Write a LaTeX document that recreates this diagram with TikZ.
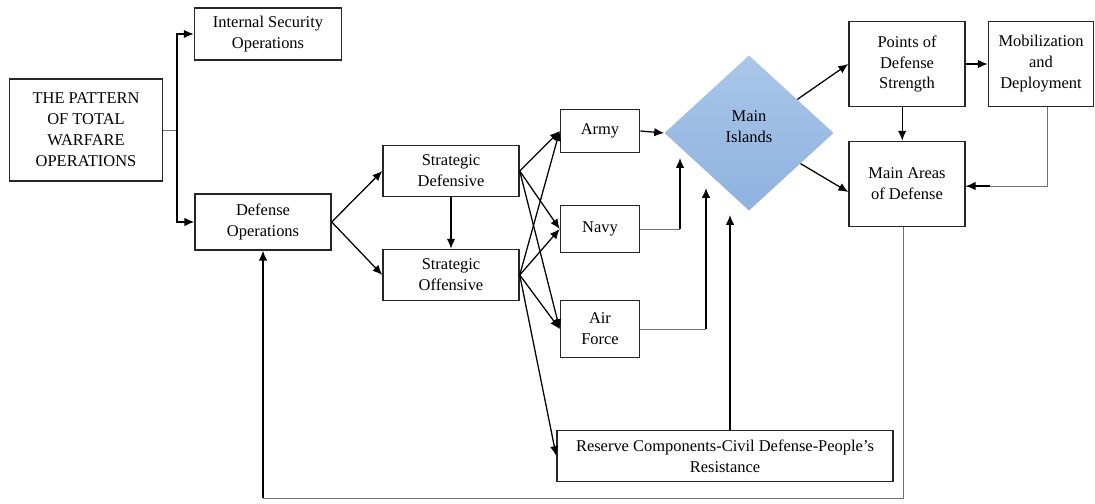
\documentclass[tikz,border=0pt]{standalone}
\usepackage{fontspec}
\setmainfont{Liberation Serif}
\usetikzlibrary{shapes.geometric,arrows.meta}
\definecolor{islandtop}{RGB}{170,198,234}
\definecolor{islandbot}{RGB}{143,178,223}
\begin{document}
\begin{tikzpicture}[x=0.025cm,y=-0.025cm,
        font=\fontsize{11.7}{14.9}\selectfont,
        box/.style={draw=black!85, line width=1pt, align=center, inner sep=1pt},
        arr/.style={-{Latex[length=7pt,width=6pt]}, line width=0.9pt},
        thin/.style={draw=black!55, line width=0.7pt}]
        \useasboundingbox (0,0) rectangle (1095,504);
        \node[box, minimum width=3.83cm, minimum height=2.55cm] (pattern) at (86,130) {THE PATTERN\\OF TOTAL\\WARFARE\\OPERATIONS};
        \node[box, minimum width=3.68cm, minimum height=1.3cm] (internal) at (268,34) {Internal Security\\Operations};
        \node[box, minimum width=3.4cm, minimum height=1.4cm] (defops) at (263,222) {Defense\\Operations};
        \node[box, minimum width=3.4cm, minimum height=1.28cm] (sdef) at (451,171) {Strategic\\Defensive};
        \node[box, minimum width=3.4cm, minimum height=1.28cm] (soff) at (451,275) {Strategic\\Offensive};
        \node[box, minimum width=1.98cm, minimum height=1.08cm] (army) at (600,131) {Army};
        \node[box, minimum width=1.98cm, minimum height=1.18cm] (navy) at (600,229) {Navy};
        \node[box, minimum width=1.98cm, minimum height=1.43cm] (air) at (600,329) {Air\\Force};
        \node[box, minimum width=8.4cm, minimum height=1.28cm] (reserve) at (725,456) {Reserve Components-Civil Defense-People’s\\Resistance};
        \node[diamond, top color=islandtop, bottom color=islandbot, inner sep=0pt, aspect=1.09, minimum width=4.23cm, minimum height=3.88cm,
              label={[yshift=0.15cm, align=center]center:Main\\Islands}] (islands) at (749,133) {};
        \node[box, minimum width=2.9cm, minimum height=2.13cm] (points) at (907,64) {Points of\\Defense\\Strength};
        \node[box, minimum width=2.63cm, minimum height=2.13cm] (mob) at (1041,64) {Mobilization\\and\\Deployment};
        \node[box, minimum width=2.9cm, minimum height=2.13cm] (areas) at (907,184) {Main Areas\\of Defense};
        \coordinate (split) at (177,130);
        \coordinate (navyin) at (680,158);
        \coordinate (airin) at (706,188);
        \coordinate (resin) at (730,215);
        \coordinate (bottom) at (0,498);
        \draw[thin] (pattern.east) -- (split);
        \draw[arr] (split) |- (internal.west);
        \draw[arr] (split) |- (defops.west);
        \draw[arr] (defops.east) -- (sdef.west);
        \draw[arr] (defops.east) -- (soff.west);
        \draw[arr] (sdef.south) -- (soff.north);
        \draw[arr] (sdef.east) -- (army.west);
        \draw[arr] (sdef.east) -- (navy.west);
        \draw[arr] (sdef.east) -- (air.west);
        \draw[arr] (soff.east) -- (army.west);
        \draw[arr] (soff.east) -- (navy.west);
        \draw[arr] (soff.east) -- (air.west);
        \draw[arr] (soff.east) -- (reserve.west);
        \draw[arr] (army.east) -- (islands.west);
        \draw[thin] (navy.east) -| (navyin |- navy.east);
        \draw[arr] (navyin |- navy.east) -- (navyin);
        \draw[thin] (air.east) -| (airin |- air.east);
        \draw[arr] (airin |- air.east) -- (airin);
        \draw[arr] (reserve.north -| resin) -- (resin);
        \draw[arr] (islands) -- (points.west);
        \draw[arr] (islands) -- ([yshift=-0.2cm]areas.west);
        \draw[arr] (points.east) -- (mob.west);
        \draw[arr] ([xshift=-0.12cm]points.south) -- ([xshift=-0.12cm]areas.north);
        \draw[thin] ([xshift=0.15cm]mob.south) |- ([yshift=-0.05cm]areas.east);
        \draw[arr] ([xshift=0.6cm,yshift=-0.05cm]areas.east) -- ([yshift=-0.05cm]areas.east);
        \draw[thin] ([xshift=-0.1cm]areas.south) |- (defops.south |- bottom);
        \draw[arr] (defops.south |- bottom) -- (defops.south);
\end{tikzpicture}
\end{document}
